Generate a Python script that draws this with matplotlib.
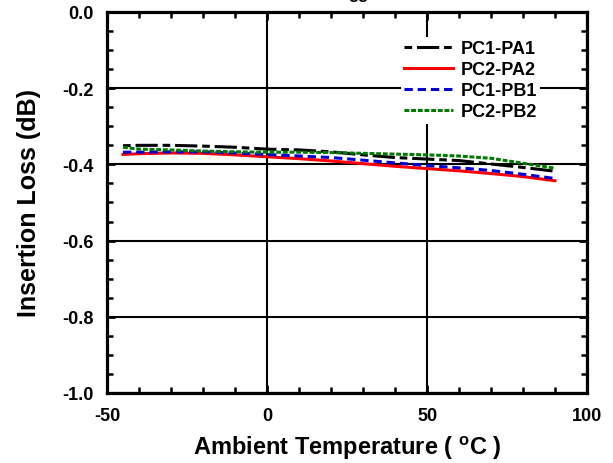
import matplotlib
matplotlib.use("Agg")
import matplotlib.pyplot as plt
from matplotlib.ticker import MultipleLocator, FormatStrFormatter

plt.rcParams['font.family'] = ['Liberation Sans', 'DejaVu Sans']
plt.rcParams['font.weight'] = 'bold'
plt.rcParams['mathtext.fontset'] = 'custom'
plt.rcParams['mathtext.bf'] = 'Liberation Sans:bold'
plt.rcParams['mathtext.rm'] = 'Liberation Sans:bold'
plt.rcParams['lines.scale_dashes'] = False
plt.rcParams['axes.unicode_minus'] = False

temps = [-45, -40, -30, -20, -10, 0, 10, 20, 30, 40, 50, 60, 70, 80, 90]
pc1_pa1 = [-0.351, -0.350, -0.350, -0.352, -0.355, -0.360, -0.362, -0.367, -0.375, -0.382, -0.386, -0.390, -0.399, -0.408, -0.418]
pc2_pa2 = [-0.374, -0.372, -0.370, -0.371, -0.375, -0.380, -0.385, -0.391, -0.398, -0.405, -0.411, -0.417, -0.424, -0.432, -0.443]
pc1_pb1 = [-0.368, -0.368, -0.367, -0.367, -0.370, -0.374, -0.378, -0.382, -0.389, -0.396, -0.403, -0.409, -0.416, -0.426, -0.437]
pc2_pb2 = [-0.355, -0.360, -0.362, -0.365, -0.367, -0.368, -0.368, -0.369, -0.371, -0.373, -0.375, -0.378, -0.384, -0.397, -0.410]
labels = ['PC1-PA1', 'PC2-PA2', 'PC1-PB1', 'PC2-PB2']

fig = plt.figure(figsize=(6.13, 4.64), dpi=100)
ax = fig.add_axes([0.1746, 0.1509, 0.7830, 0.8211])

ax.plot(temps, pc1_pa1, color='black', lw=2.2, label=labels[0],
        linestyle=(19.5, (16, 3.5, 5.5, 3.5)))
ax.plot(temps, pc2_pa2, color='#ff0000', lw=2.2, label=labels[1])
ax.plot(temps, pc1_pb1, color='#0000dd', lw=2.2, label=labels[2],
        linestyle=(0, (6, 3.5)))
ax.plot(temps, pc2_pb2, color='#007a00', lw=2.2, label=labels[3],
        linestyle=(0, (3.5, 1.3)))

ax.set_xlim(-50, 100)
ax.set_ylim(-1.0, 0.0)
ax.xaxis.set_major_locator(MultipleLocator(50))
ax.xaxis.set_minor_locator(MultipleLocator(10))
ax.yaxis.set_major_locator(MultipleLocator(0.2))
ax.yaxis.set_minor_locator(MultipleLocator(0.05))
ax.yaxis.set_major_formatter(FormatStrFormatter('%.1f'))
ax.grid(True, which='major', color='black', lw=1.5)
ax.set_axisbelow(True)
for s in ax.spines.values():
    s.set_linewidth(2.3)
ax.tick_params(which='both', direction='in', top=True, right=True, labelsize=13)
ax.tick_params(axis='x', pad=10)
ax.tick_params(axis='y', pad=10)
ax.tick_params(which='major', length=6, width=2)
ax.tick_params(which='minor', length=4, width=1.8)
for t in ax.get_xticklabels() + ax.get_yticklabels():
    t.set_fontweight('bold')

ax.set_xlabel(r'Ambient Temperature ( $^{\mathbf{o}}$C )', fontsize=17, fontweight='bold', labelpad=7)
ax.set_ylabel('Insertion Loss (dB)', fontsize=18, fontweight='bold', labelpad=15)

leg = ax.legend(loc='upper right', bbox_to_anchor=(0.903, 0.935), frameon=True, fancybox=False,
                edgecolor='none', facecolor='white', framealpha=1,
                handlelength=2.7, handletextpad=0.4, labelspacing=0.22,
                prop={'weight': 'bold', 'size': 13}, borderpad=0.2, borderaxespad=0)

fig.text(0.585, 1.003, 'gg', fontsize=12, fontweight='bold', ha='center', va='baseline')

fig.savefig('out.png', dpi=100)
